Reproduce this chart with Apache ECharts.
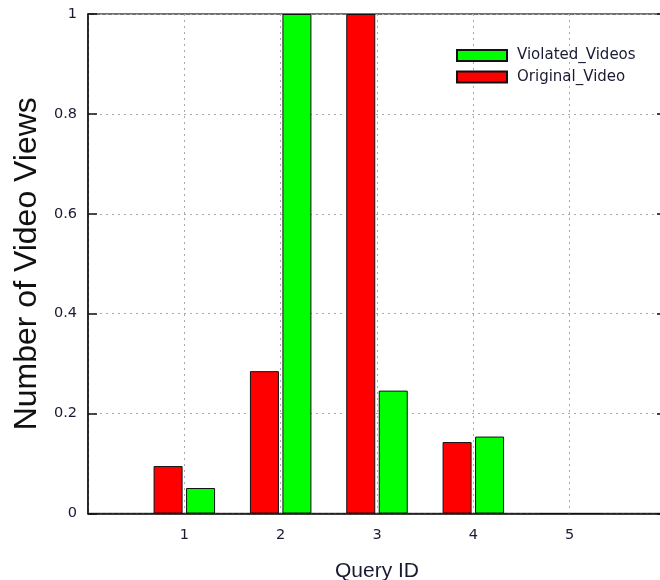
<!DOCTYPE html>
<html>
<head>
<meta charset="utf-8">
<script src="https://cdn.jsdelivr.net/npm/echarts@6/dist/echarts.min.js"></script>
<style>
  html, body { margin: 0; padding: 0; background: #fff; }
  #chart { width: 660px; height: 580px; }
</style>
</head>
<body>
<div id="chart"></div>
<script>
// x positions 0..6, only 1..5 are queries
const axisSlots = ['0', '1', '2', '3', '4', '5', '6']
const queryIds = ['1', '2', '3', '4', '5']
const originalViews = [0.095, 0.285, 1, 0.143, 0]
const violatedViews = [0.051, 1, 0.246, 0.154, 0]
const yTicks = [0, 0.2, 0.4, 0.6, 0.8, 1]

// pad so query i sits on slot i
function pad(values) {
  let out = [null]
  for (let v of values) out.push(v)
  out.push(null)
  return out
}

let chart = echarts.init(document.getElementById('chart'))

const tickFont = { fontFamily: 'DejaVu Sans', fontSize: 14.5, color: '#1a1a33' }

let option = {
  animation: false,
  grid: {
    left: 88,
    top: 14,
    width: 578,
    height: 499.5,
    containLabel: false,
    outerBoundsMode: 'none',
    show: true,
    borderColor: '#444',
    borderWidth: 1.5
  },
  legend: {
    data: ['Violated_Videos', 'Original_Video'],
    orient: 'vertical',
    left: 456,
    top: 48,
    padding: 0,
    itemWidth: 50,
    itemHeight: 11,
    itemGap: 6.5,
    icon: 'rect',
    textStyle: {
      fontFamily: 'DejaVu Sans',
      fontSize: 15,
      color: '#1a1a33',
      padding: [0, 0, 0, 5]
    }
  },
  xAxis: {
    type: 'category',
    data: axisSlots,
    boundaryGap: false,
    name: 'Query ID',
    nameLocation: 'middle',
    nameGap: 47,
    nameTextStyle: { fontFamily: 'Liberation Sans', fontSize: 21, color: '#1a1a33' },
    axisLine: { lineStyle: { color: '#111', width: 1.5 } },
    axisTick: { show: false },
    axisLabel: Object.assign({
      margin: 14,
      interval: 0,
      formatter: function (v) { return queryIds.indexOf(v) >= 0 ? v : '' }
    }, tickFont),
    splitLine: {
      show: true,
      lineStyle: { color: '#aaa', type: [2, 4], width: 1 }
    }
  },
  yAxis: [
    {
      type: 'value',
      min: 0,
      max: 1,
      interval: 0.2,
      name: 'Number of Video Views',
      nameLocation: 'middle',
      nameGap: 44,
      nameTextStyle: { fontFamily: 'Liberation Sans', fontSize: 32, color: '#111' },
      axisLine: { show: true, lineStyle: { color: '#111', width: 1.5 } },
      axisTick: { show: true, inside: true, length: 9, lineStyle: { color: '#111', width: 1.5 } },
      axisLabel: Object.assign({
        margin: 11,
        formatter: function (v) {
          for (let t of yTicks) if (Math.abs(t - v) < 1e-9) return String(t)
          return ''
        }
      }, tickFont),
      splitLine: {
        show: true,
        lineStyle: { color: '#aaa', type: [2, 4], width: 1 }
      }
    },
    {
      type: 'value',
      min: 0,
      max: 1,
      interval: 0.2,
      position: 'right',
      axisLine: { show: true, lineStyle: { color: '#444', width: 1.5 } },
      axisTick: { show: true, inside: true, length: 9, lineStyle: { color: '#111', width: 1.5 } },
      axisLabel: { show: false },
      splitLine: { show: false }
    }
  ],
  series: [
    {
      name: 'Original_Video',
      type: 'bar',
      data: pad(originalViews),
      barWidth: 29,
      barGap: '12%',
      itemStyle: { color: '#ff0000', borderColor: '#111', borderWidth: 1 }
    },
    {
      name: 'Violated_Videos',
      type: 'bar',
      data: pad(violatedViews),
      barWidth: 29,
      itemStyle: { color: '#00ff00', borderColor: '#111', borderWidth: 1 }
    }
  ]
}

chart.setOption(option)
</script>
</body>
</html>
